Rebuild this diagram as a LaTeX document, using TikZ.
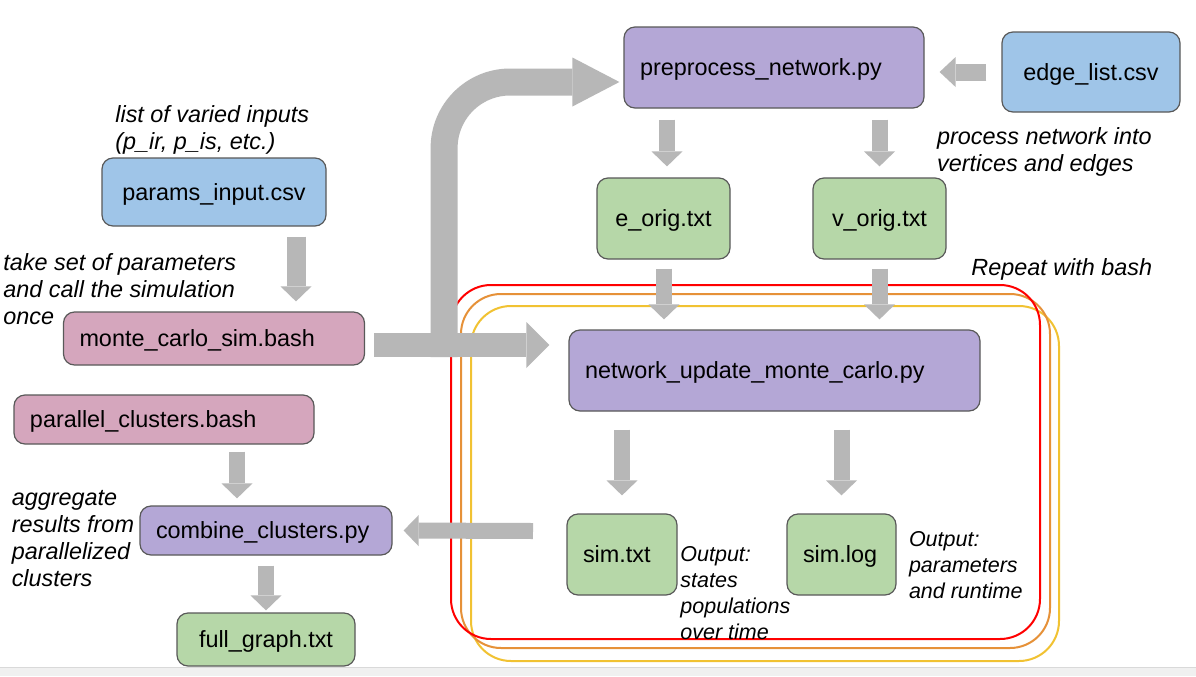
\documentclass[tikz,border=0pt]{standalone}
\usepackage{fontspec}
\setmainfont{Liberation Sans}
\usetikzlibrary{arrows.meta,calc}
\definecolor{boxblue}{HTML}{9FC5E8}
\definecolor{boxpurple}{HTML}{B4A7D6}
\definecolor{boxpink}{HTML}{D5A6BD}
\definecolor{boxgreen}{HTML}{B6D7A8}
\definecolor{boxedge}{HTML}{595959}
\definecolor{arrgray}{HTML}{B7B7B7}
\definecolor{loopred}{HTML}{FF0000}
\definecolor{looporange}{HTML}{E69138}
\definecolor{loopyellow}{HTML}{F1C232}
\begin{document}
\begin{tikzpicture}[x=0.5pt,y=-0.5pt,
  box/.style={draw=boxedge, line width=0.6pt, rounded corners=5.5pt, inner xsep=8pt, inner ysep=0pt,
    text height=10.5pt, text depth=2.5pt, font=\fontsize{11.7pt}{13.5pt}\selectfont},
  lbl/.style={inner sep=0pt, align=left, font=\fontsize{11.7pt}{13.6pt}\selectfont\itshape},
  outlbl/.style={inner sep=0pt, align=left, font=\fontsize{10.75pt}{13pt}\selectfont\itshape},
  sarrow/.style={draw=arrgray, line width=8pt, -{Triangle[length=7.5pt,width=15.5pt,line width=0pt]}},
  sarrowp/.style={draw=arrgray, line width=9.5pt, -{Triangle[length=7.5pt,width=15.5pt,line width=0pt]}},
  earrow/.style={draw=arrgray, line width=8.5pt, -{Triangle[length=8pt,width=15pt,line width=0pt]}},
  bigarrow/.style={draw=arrgray, line width=12pt, -{Triangle[length=11.5pt,width=23pt,line width=0pt]}},
  bigarrowup/.style={draw=arrgray, line width=13.5pt, rounded corners=33pt, -{Triangle[length=23.5pt,width=24.5pt,line width=0pt]}},
  loopbox/.style={line width=1pt, rounded corners=20pt}
]
\useasboundingbox (0,0) rectangle (1196,676);
\fill[white] (0,0) rectangle (1196,676);
\fill[gray!12] (0,667.5) rectangle (1196,676);
\draw[gray!30, line width=0.5pt] (0,667.5) -- (1196,667.5);

% repeat loops
\draw[loopbox, draw=loopyellow] (471,306) rectangle (1059,661);
\draw[loopbox, draw=looporange] (461,294) rectangle (1050,648);
\draw[loopbox, draw=loopred] (451,285) rectangle (1040,639);

% boxes
\node[box, fill=boxblue, align=center, text width=96pt, minimum height=34pt] (params) at (214,192) {params\_input.csv};
\node[box, fill=boxpink, align=left, text width=134.5pt, minimum height=26.5pt] (monte) at (214,338.5) {monte\_carlo\_sim.bash};
\node[box, fill=boxpink, align=left, text width=134pt, minimum height=24.5pt] (parallel) at (164,419.5) {parallel\_clusters.bash};
\node[box, fill=boxpurple, align=left, text width=110pt, minimum height=24.5pt] (combine) at (266,530.5) {combine\_clusters.py};
\node[box, fill=boxgreen, align=center, text width=73pt, minimum height=26.5pt] (full) at (266,639.5) {full\_graph.txt};
\node[box, fill=boxpurple, align=left, text width=134pt, minimum height=40.5pt] (prep) at (774,67.5) {preprocess\_network.py};
\node[box, fill=boxblue, align=center, text width=73pt, minimum height=40pt] (edge) at (1091,72) {edge\_list.csv};
\node[box, fill=boxgreen, align=center, text width=50.5pt, minimum height=40.5pt] (eorig) at (663.5,218.5) {e\_orig.txt};
\node[box, fill=boxgreen, align=center, text width=50.5pt, minimum height=40.5pt] (vorig) at (879.5,218.5) {v\_orig.txt};
\node[box, fill=boxpurple, align=left, text width=189.5pt, minimum height=40.5pt] (net) at (774.5,370.5) {network\_update\_monte\_carlo.py};
\node[box, fill=boxgreen, align=left, text width=39pt, minimum height=40.5pt] (simtxt) at (622,554.5) {sim.txt};
\node[box, fill=boxgreen, align=left, text width=38.5pt, minimum height=40.5pt] (simlog) at (841.5,554.5) {sim.log};

% arrows
\draw[sarrowp] ($(params.south)+(82,10)$) -- ($(monte.north)+(82,-10)$);
\draw[sarrow] ($(parallel.south)+(73,7)$) -- ($(combine.north)+(-29,-7)$);
\draw[sarrow] ($(combine.south)+(0,10)$) -- ($(full.north)+(0,-2)$);
\coordinate (loopout) at (533,531);
\draw[sarrow] (loopout) -- ($(combine.east)+(11,0)$);
\draw[earrow] ($(edge.west)+(-15,0)$) -- ($(prep.east |- edge.west)+(15,0)$);
\draw[sarrow] ($(eorig.north |- prep.south)+(3.5,11)$) -- ($(eorig.north)+(3.5,-11)$);
\draw[sarrow] ($(vorig.north |- prep.south)+(0,11)$) -- ($(vorig.north)+(0,-11)$);
\draw[sarrow] ($(eorig.south)+(0.5,9)$) -- ($(eorig.south |- net.north)+(0.5,-10)$);
\draw[sarrow] ($(vorig.south)+(0,9)$) -- ($(vorig.south |- net.north)+(0,-10)$);
\draw[sarrow] ($(simtxt.north |- net.south)+(0,18)$) -- ($(simtxt.north)+(0,-18)$);
\draw[sarrow] ($(simlog.north |- net.south)+(0,18)$) -- ($(simlog.north)+(0,-18)$);
\draw[bigarrowup] ($(monte.east)+(79,18.5)$) |- ($(prep.west)+(-4,14.5)$);
\draw[bigarrow] ($(monte.east)+(9,6.5)$) -- ($(net.west)+(-19,-25.5)$);

% labels
\node[lbl, anchor=north west] (lblinputs) at (115,105.2) {list of varied inputs\\(p\_ir, p\_is, etc.)};
\node[lbl, anchor=north west] (lbltake) at (3,253.2) {take set of parameters\\and call the simulation\\once};
\node[lbl, anchor=north west] (lblagg) at (11.4,489.5) {aggregate\\results from\\parallelized\\clusters};
\node[lbl, anchor=north west] (lblproc) at (936.7,127.2) {process network into\\vertices and edges};
\node[lbl, anchor=base west] (lblrepeat) at (971,275) {Repeat with bash};
\node[outlbl, anchor=north west] (lblouts) at (680,546) {Output:\\states\\populations\\over time};
\node[outlbl, anchor=north west] (lbloutp) at (908.6,531) {Output:\\parameters\\and runtime};
\end{tikzpicture}
\end{document}
